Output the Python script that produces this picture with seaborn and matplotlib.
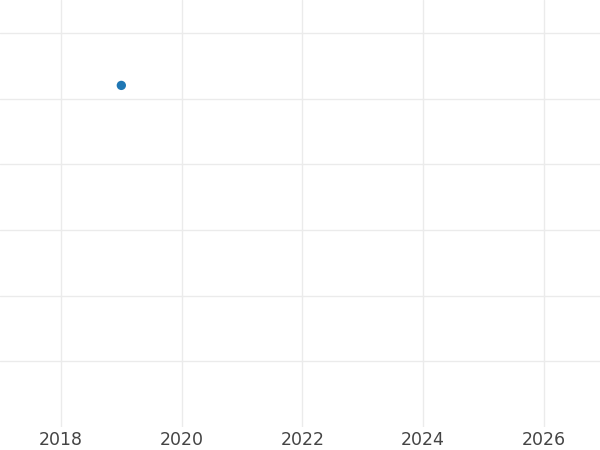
import matplotlib
matplotlib.use("Agg")
import matplotlib.pyplot as plt
import seaborn as sns
import pandas as pd

years = [2019]
values = [5.2]
x_ticks = [2018, 2020, 2022, 2024, 2026]
y_ticks = [1, 2, 3, 4, 5, 6]

sns.set_style("white")
plt.rcParams['font.family'] = ['DejaVu Sans']

df = pd.DataFrame({"year": years, "value": values})

fig = plt.figure(figsize=(6, 4.5), dpi=100)
ax = fig.add_axes([0, 1 - 427/450, 1, 427/450])
sns.scatterplot(data=df, x="year", y="value", ax=ax, color="#1f77b4", s=45, edgecolor="none", zorder=3)

ax.set_xlim(2016.99, 2026.93)
ax.set_ylim(0, 6.5)
ax.set_xticks(x_ticks)
ax.set_xticklabels([str(t) for t in x_ticks], fontsize=12.5, color="#444444")
ax.set_yticks(y_ticks)
ax.set_yticklabels([])
ax.tick_params(axis="both", length=0, pad=3)
ax.grid(True, color="#ebebeb", linewidth=1.0)
ax.set_axisbelow(True)
for s in ax.spines.values():
    s.set_visible(False)
ax.set_xlabel("")
ax.set_ylabel("")
fig.savefig("out.png", dpi=100)
